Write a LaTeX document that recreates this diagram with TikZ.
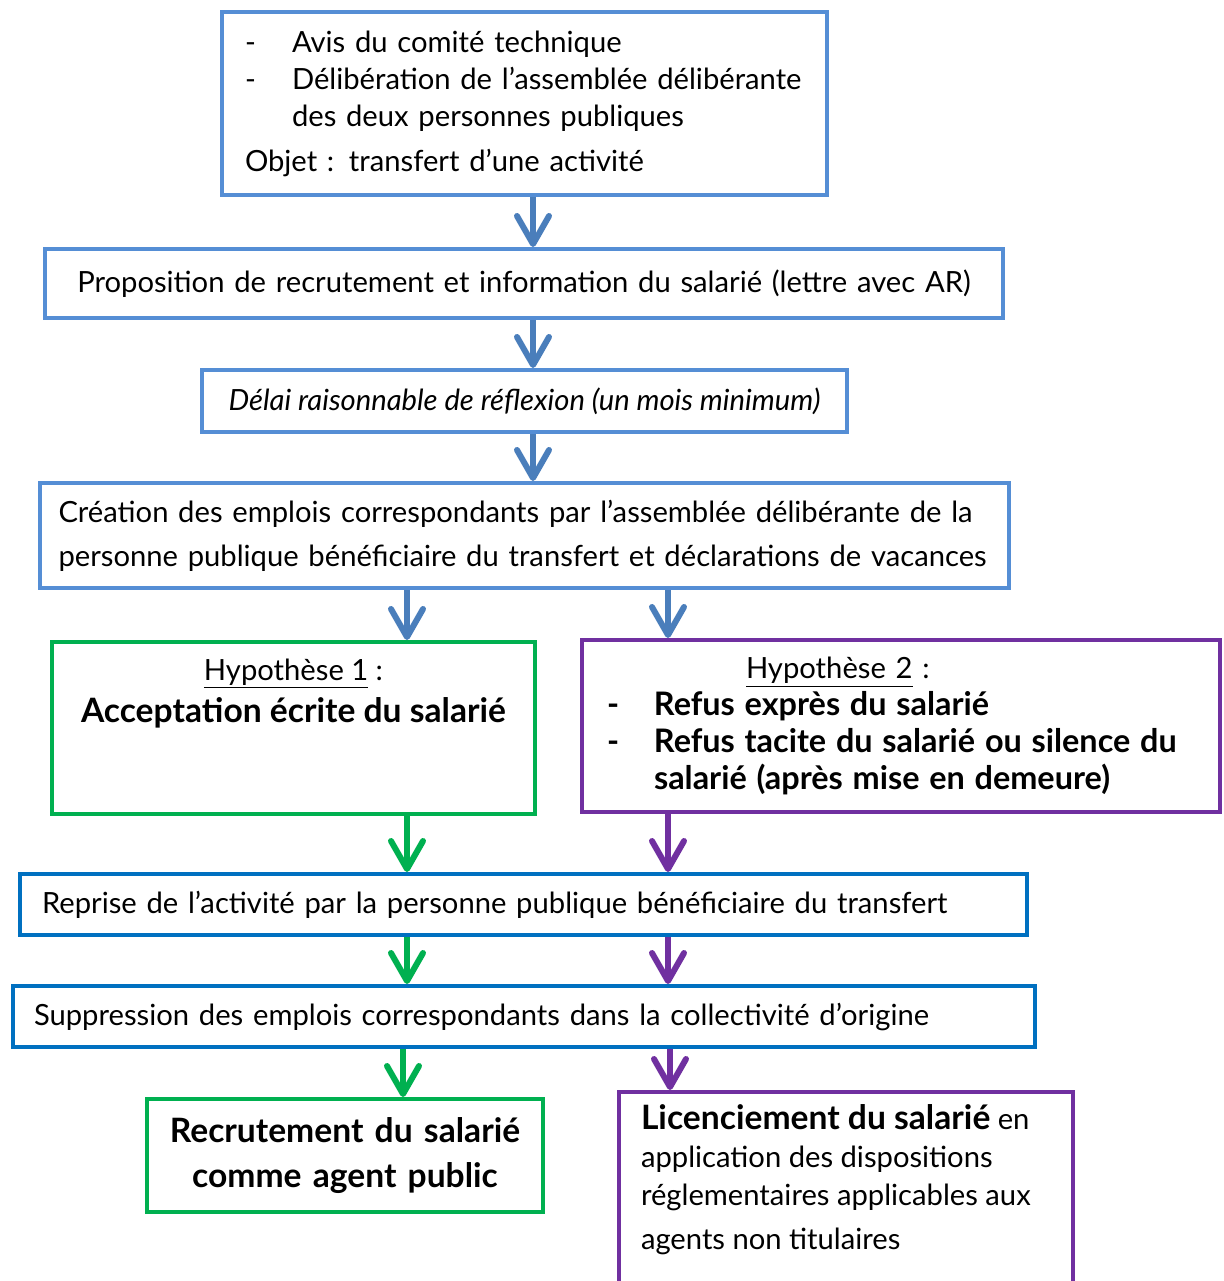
\documentclass[tikz,border=0pt]{standalone}
\usepackage{fontspec}
\setmainfont{Lato}
\usetikzlibrary{arrows.meta,positioning,calc}
\definecolor{flowLB}{RGB}{85,142,213}
\definecolor{flowLBa}{RGB}{74,126,187}
\definecolor{flowDB}{RGB}{0,112,192}
\definecolor{flowG}{RGB}{0,176,80}
\definecolor{flowP}{RGB}{112,48,160}
\newcommand{\dashitem}{\makebox[23.5pt][l]{-}}
\newcommand{\boldtxt}[2][16.8]{{\fontsize{#1}{18.5}\selectfont\bfseries #2}}

\begin{document}
\begin{tikzpicture}[
  x=0.5pt, y=-0.5pt,
  font=\fontsize{14.6}{18.5}\selectfont,
  box/.style={draw=#1, line width=2pt, inner sep=0pt, anchor=north west},
  arr/.style={draw=#1, line width=3pt, -{Straight Barb[round,length=14pt,width=16pt]}}
]
\useasboundingbox[fill=white] (0,0) rectangle (1223,1281);

% boxes, top to bottom (pixel grid of the page)
\node[box=flowLB, minimum width=302.5pt, minimum height=91.5pt,
  text width=279.5pt, align=left] (avis) at (220,10) {%
  \dashitem Avis du comité technique\\
  \dashitem \mbox{Délibération de l’assemblée délibérante}\\
  \hspace*{23.5pt}des deux personnes publiques\\[4pt]
  Objet : transfert d’une activité\\[-2pt]};
\node[box=flowLB, minimum width=479pt, minimum height=34.5pt,
  text width=457pt, align=center] (prop) at (43,247)
  {Proposition de recrutement et information du salarié (lettre avec AR)};
\node[box=flowLB, minimum width=322.5pt, minimum height=31pt,
  align=center, font=\fontsize{14.6}{18.5}\selectfont\itshape] (delai) at (200,368)
  {Délai raisonnable de réflexion (un mois minimum)};
\node[box=flowLB, minimum width=484.5pt, minimum height=52.5pt,
  text width=466pt, align=left, font=\fontsize{14.6}{22}\selectfont] (creat) at (38,481)
  {\mbox{Création des emplois correspondants par l’assemblée délibérante de la}\\
   \mbox{personne publique bénéficiaire du transfert et déclarations de vacances}};

% the two hypotheses
\node[box=flowG, minimum width=241.5pt, minimum height=86pt] (hypA) at (50,640)
  {\parbox[c][86pt][t]{241.5pt}{\centering\rule{0pt}{19pt}\underline{Hypothèse 1} :\\[2.5pt]
   \boldtxt{Acceptation écrite du salarié}}};
\node[box=flowP, minimum width=319pt, minimum height=86pt,
  text width=294pt, align=left] (hypB) at (580,638) {%
  \hspace*{69.5pt}\underline{Hypothèse 2} :\\
  \boldtxt[16.2]{\dashitem Refus exprès du salarié}\\
  \boldtxt[16.2]{\dashitem Refus tacite du salarié ou silence du}\\
  \hspace*{23.5pt}\boldtxt[16.2]{salarié (après mise en demeure)}};

\node[box=flowDB, minimum width=503.5pt, minimum height=30.5pt,
  text width=481.5pt, align=left] (repr) at (18,872)
  {Reprise de l’activité par la personne publique bénéficiaire du transfert};
\node[box=flowDB, minimum width=511pt, minimum height=30.5pt,
  text width=490pt, align=left] (suppr) at (11,984)
  {Suppression des emplois correspondants dans la collectivité d’origine};

% outcomes
\node[box=flowG, minimum width=198pt, minimum height=56.5pt,
  text width=190pt, align=center, font=\fontsize{16.8}{22.5}\selectfont\bfseries] (recr) at (145,1097)
  {Recrutement du salarié\\ comme agent public};
\node[box=flowP, minimum width=227pt, minimum height=110pt, inner xsep=11pt] (licen) at (617,1090)
  {\parbox[c][110pt][t]{205pt}{\raggedright\baselineskip=19pt\rule{0pt}{18.5pt}%
   \boldtxt{Licenciement du salarié} en\\
   application des dispositions\\
   réglementaires applicables aux\\[3pt]
   agents non titulaires}};

% arrow columns
\coordinate (colM) at (533,0);
\coordinate (colG) at (407,0);
\coordinate (colP) at (668,0);
\coordinate (colGb) at (403,0);
\coordinate (colPb) at (670,0);

\draw[arr=flowLBa] (avis.south -| colM) -- (prop.north -| colM);
\draw[arr=flowLBa] (prop.south -| colM) -- (delai.north -| colM);
\draw[arr=flowLBa] (delai.south -| colM) -- (creat.north -| colM);
\draw[arr=flowLBa] (creat.south -| colG) -- (hypA.north -| colG);
\draw[arr=flowLBa] (creat.south -| colP) -- (hypB.north -| colP);
\draw[arr=flowG] (hypA.south -| colG) -- (repr.north -| colG);
\draw[arr=flowP] (hypB.south -| colP) -- (repr.north -| colP);
\draw[arr=flowG] (repr.south -| colG) -- (suppr.north -| colG);
\draw[arr=flowP] (repr.south -| colP) -- (suppr.north -| colP);
\draw[arr=flowG] (suppr.south -| colGb) -- (recr.north -| colGb);
\draw[arr=flowP] (suppr.south -| colPb) -- (licen.north -| colPb);
\end{tikzpicture}
\end{document}
